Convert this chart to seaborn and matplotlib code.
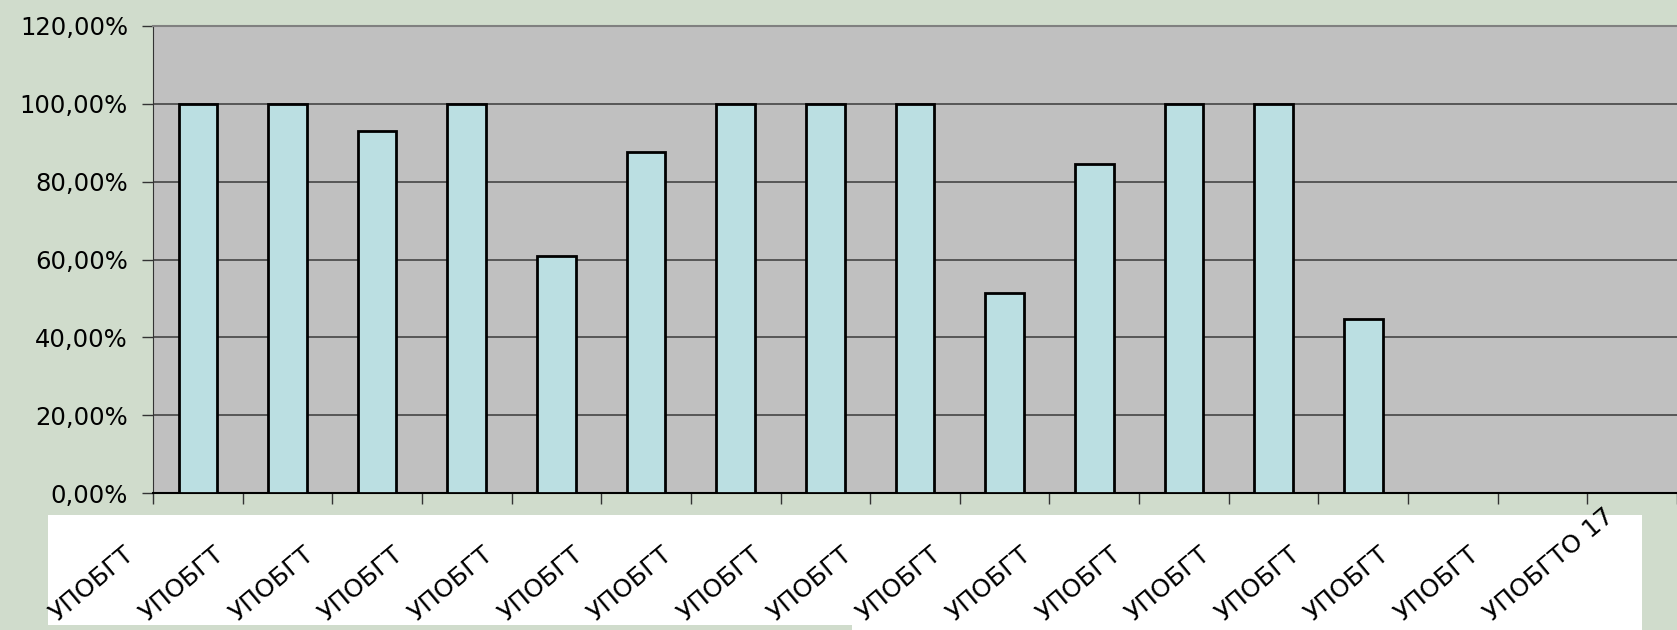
import numpy as np
import pandas as pd
import matplotlib.pyplot as plt
import seaborn as sns
from matplotlib.patches import Rectangle
from matplotlib.transforms import blended_transform_factory

# ---------------- DATA ----------------
categories = ["УПОБГТО 1", "УПОБГТО 2", "УПОБГТО 3", "УПОБГТО 4", "УПОБГТО 5",
              "УПОБГТО 6", "УПОБГТО 7", "УПОБГТО 8", "УПОБГТО 9", "УПОБГТО 10",
              "УПОБГТО 11", "УПОБГТО 12", "УПОБГТО 13", "УПОБГТО 14", "УПОБГТО 15",
              "УПОБГТО 16", "УПОБГТО 17"]
shown_labels = ["УПОБГТ", "УПОБГТ", "УПОБГТ", "УПОБГТ", "УПОБГТ", "УПОБГТ",
                "УПОБГТ", "УПОБГТ", "УПОБГТ", "УПОБГТ", "УПОБГТ", "УПОБГТ",
                "УПОБГТ", "УПОБГТ", "УПОБГТ", "УПОБГТ", "УПОБГТО 17"]
# share per category (only the first 14 have a value)
bar_categories = categories[:14]
bar_values = [1.00, 1.00, 0.929, 1.00, 0.609, 0.877, 1.00, 1.00, 1.00,
              0.513, 0.845, 1.00, 1.00, 0.447]
y_ticks = [0.0, 0.2, 0.4, 0.6, 0.8, 1.0, 1.2]

df = pd.DataFrame({"category": bar_categories, "value": bar_values})

# ---------------- FIGURE ----------------
W, H = 1677, 630
fig = plt.figure(figsize=(W / 100, H / 100), dpi=100)
fig.patch.set_facecolor("#D0DCCC")

# white strip behind the category labels
fig.patches.append(Rectangle((48 / W, (H - 625) / H), (852 - 48) / W, (625 - 515) / H,
                             transform=fig.transFigure, facecolor="white",
                             edgecolor="none", zorder=-1))
fig.patches.append(Rectangle((852 / W, 0), (1642 - 852) / W, (630 - 515) / H,
                             transform=fig.transFigure, facecolor="white",
                             edgecolor="none", zorder=-1))

left, top, bottom = 153, 26, 493
ax = fig.add_axes([left / W, (H - bottom) / H, (W - left) / W, (bottom - top) / H])
ax.set_zorder(2)
ax.set_facecolor("#C0C0C0")

sns.barplot(data=df, x="category", y="value", order=categories, width=0.43,
            color="#BBDFE2", edgecolor="black", linewidth=2, saturation=1,
            ax=ax, zorder=3)

cat_w = 90.6
ax.set_xlim(-0.5, -0.5 + (W - left) / cat_w)
ax.set_ylim(0, 1.2)

ax.set_yticks(y_ticks)
ax.set_yticklabels([f"{v * 100:.2f}%".replace(".", ",") for v in y_ticks],
                   fontsize=17.5, family="DejaVu Sans", color="black")
ax.yaxis.grid(True, color="#3A3A3A", linewidth=1.1, zorder=1)
ax.set_axisbelow(True)
ax.tick_params(axis="y", length=8, width=1, color="#333333", pad=10)

ax.set_xticks(np.arange(-0.5, 17, 1))
ax.set_xticklabels([])
ax.tick_params(axis="x", length=8, width=1, color="#333333")
ax.set_xlabel("")
ax.set_ylabel("")

ax.spines["right"].set_visible(False)
ax.spines["top"].set_color("#808080")
ax.spines["top"].set_linewidth(1.5)
ax.spines["left"].set_color("#333333")
ax.spines["bottom"].set_color("black")
ax.spines["bottom"].set_linewidth(1.5)

# rotated category labels under the axis
trans = blended_transform_factory(ax.transData, fig.transFigure)
for i, lab in enumerate(shown_labels):
    ax.text(i - 1.56, (H - 622) / H, lab, rotation=40, rotation_mode="anchor",
            ha="left", va="baseline", fontsize=18, family="DejaVu Sans",
            color="black", transform=trans, clip_on=False)

fig.savefig("out.png", dpi=100, facecolor=fig.get_facecolor())
